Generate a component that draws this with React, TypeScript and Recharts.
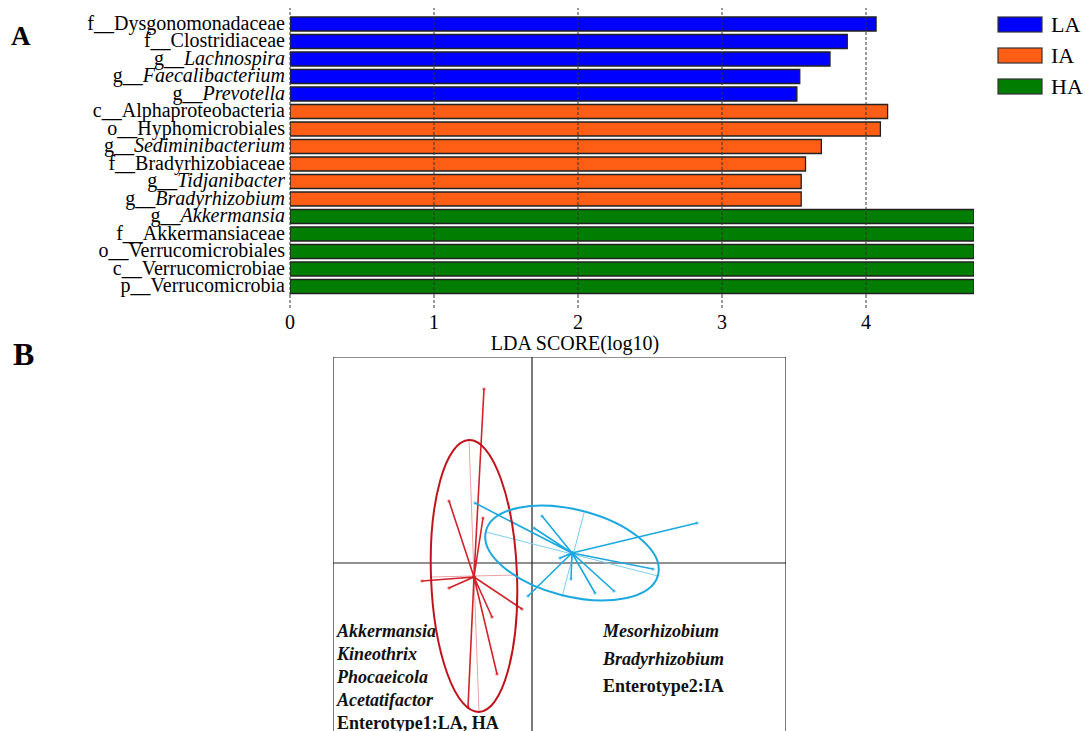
import React from "react";
import {
  BarChart,
  Bar,
  XAxis,
  YAxis,
  Cell,
  ReferenceLine,
  ReferenceArea,
  Legend,
  ScatterChart,
  Scatter,
  Customized,
} from "recharts";

const SERIF = '"Liberation Serif", "Times New Roman", Times, serif';

// ---- panel A: LEfSe LDA scores ----
const taxa = [
  "f__Dysgonomonadaceae",
  "f__Clostridiaceae",
  "g__Lachnospira",
  "g__Faecalibacterium",
  "g__Prevotella",
  "c__Alphaproteobacteria",
  "o__Hyphomicrobiales",
  "g__Sediminibacterium",
  "f__Bradyrhizobiaceae",
  "g__Tidjanibacter",
  "g__Bradyrhizobium",
  "g__Akkermansia",
  "f__Akkermansiaceae",
  "o__Verrucomicrobiales",
  "c__Verrucomicrobiae",
  "p__Verrucomicrobia",
];
const ldaScores = [4.07, 3.87, 3.75, 3.54, 3.52, 4.15, 4.1, 3.69, 3.58, 3.55, 3.55, 4.75, 4.75, 4.75, 4.75, 4.75];
const taxonGroups = ["LA", "LA", "LA", "LA", "LA", "IA", "IA", "IA", "IA", "IA", "IA", "HA", "HA", "HA", "HA", "HA"];
const groupNames = ["LA", "IA", "HA"];
const groupColors = ["#0000FF", "#FF5E14", "#017D01"];
const scoreTicks = [0, 1, 2, 3, 4];

// ---- panel B: enterotype class scatter (BCA) ----
const redCenter = { x: -0.58, y: -0.14 };
const redTips = [
  { x: -0.48, y: 1.74 },
  { x: -0.83, y: 0.62 },
  { x: -0.49, y: 0.45 },
  { x: -1.1, y: -0.18 },
  { x: -0.83, y: -0.25 },
  { x: -0.1, y: -0.46 },
  { x: -0.4, y: -0.54 },
  { x: -0.35, y: -1.11 },
  { x: -0.64, y: -1.44 },
];
const blueCenter = { x: 0.4, y: 0.1 };
const blueTips = [
  { x: -0.57, y: 0.6 },
  { x: 0.1, y: 0.47 },
  { x: 0.02, y: 0.35 },
  { x: 1.65, y: 0.4 },
  { x: 1.21, y: -0.06 },
  { x: -0.04, y: -0.33 },
  { x: 0.39, y: -0.16 },
  { x: 0.63, y: -0.3 },
  { x: 0.82, y: -0.28 },
  { x: 0.28, y: 0.05 },
];
// ellipse: centre, semi-axes, rotation (deg)
const redEllipse = [{ x: -0.58, y: -0.13, rx: 0.43, ry: 1.36, angle: -2.1 }];
const blueEllipse = [{ x: 0.4, y: 0.1, rx: 0.888, ry: 0.434, angle: 14.3 }];
const redAxes = [
  [{ x: -0.63, y: 1.23 }, { x: -0.53, y: -1.49 }],
  [{ x: -1.01, y: -0.14 }, { x: -0.15, y: -0.12 }],
];
const blueAxes = [
  [{ x: -0.46, y: 0.31 }, { x: 1.26, y: -0.13 }],
  [{ x: 0.52, y: 0.5 }, { x: 0.3, y: -0.34 }],
];
const enterotype1Genera = ["Akkermansia", "Kineothrix", "Phocaeicola", "Acetatifactor"];
const enterotype2Genera = ["Mesorhizobium", "Bradyrhizobium"];

const RED = "#D0232A";
const RED_ELL = "#C0141C";
const BLUE = "#1DA8E0";

const PX = 100; // px per unit in panel B (453px / 4.53)
const xDomB: [number, number] = [-1.99, 2.54];
const yDomB: [number, number] = [-1.94, 2.06];

const ldaData = taxa.map((t, i) => ({ taxon: t, score: ldaScores[i], group: taxonGroups[i] }));

const star = (c: { x: number; y: number }, tips: { x: number; y: number }[]) =>
  tips.flatMap((p) => [c, p]);

function TaxonTick(props: any) {
  const { x, y, payload } = props;
  const label: string = payload.value;
  const prefix = label.slice(0, 3);
  const name = label.slice(3);
  return (
    <text x={x} y={y} dy={6} textAnchor="end" fontFamily={SERIF} fontSize={20} fill="#000">
      <tspan>{prefix}</tspan>
      <tspan fontStyle={prefix === "g__" ? "italic" : "normal"}>{name}</tspan>
    </text>
  );
}

function GroupLegend() {
  return (
    <svg width={90} height={90}>
      {groupNames.map((g, i) => (
        <g key={g}>
          <rect x={1} y={1 + i * 31} width={44} height={15} fill={groupColors[i]} stroke="#333" strokeWidth={1.2} />
          <text x={54} y={16 + i * 31} fontFamily={SERIF} fontSize={22} fill="#000">
            {g}
          </text>
        </g>
      ))}
    </svg>
  );
}

const dotShape = (color: string) => (p: any) =>
  <circle cx={p.cx} cy={p.cy} r={1.6} fill={color} opacity={0.7} />;

const noShape = () => <g />;

const ellipseShape = (color: string) => (p: any) => {
  const { cx, cy, payload } = p;
  return (
    <ellipse
      cx={cx}
      cy={cy}
      rx={payload.rx * PX}
      ry={payload.ry * PX}
      transform={`rotate(${payload.angle} ${cx} ${cy})`}
      fill="none"
      stroke={color}
      strokeWidth={2}
    />
  );
};

function PanelBText() {
  return (
    <g fontFamily={SERIF} fontSize={18} fontWeight="bold" fill="#111">
      {enterotype1Genera.map((g, i) => (
        <text key={g} x={4} y={280 + i * 23} fontStyle="italic">
          {g}
        </text>
      ))}
      <text x={4} y={372}>Enterotype1:LA, HA</text>
      {enterotype2Genera.map((g, i) => (
        <text key={g} x={270} y={280 + i * 28} fontStyle="italic">
          {g}
        </text>
      ))}
      <text x={270} y={335}>Enterotype2:IA</text>
    </g>
  );
}

export default function App() {
  return (
    <div
      style={{
        position: "absolute",
        left: 0,
        top: 0,
        width: 1086,
        height: 731,
        overflow: "hidden",
        background: "#fff",
      }}
    >
      <svg width={60} height={400} style={{ position: "absolute", left: 0, top: 0 }}>
        <text x={11} y={45} fontFamily={SERIF} fontSize={27} fontWeight="bold">A</text>
        <text x={13} y={365} fontFamily={SERIF} fontSize={32} fontWeight="bold">B</text>
      </svg>

      <div style={{ position: "absolute", left: 0, top: 0 }}>
        <BarChart
          width={1086}
          height={360}
          data={ldaData}
          layout="vertical"
          margin={{ top: 8, right: 112, left: 5, bottom: 0 }}
          barSize={14}
        >
          <XAxis
            type="number"
            domain={[0, 4.75]}
            ticks={scoreTicks}
            allowDataOverflow
            axisLine={false}
            tickSize={13}
            tickMargin={7}
            tickLine={{ stroke: "#333", strokeDasharray: "3 2" }}
            tick={{ fontFamily: SERIF, fontSize: 20, fill: "#000" }}
            height={65}
            label={() => (
              <text x={575} y={350} textAnchor="middle" fontFamily={SERIF} fontSize={20} fill="#000">
                LDA SCORE(log10)
              </text>
            )}
          />
          <YAxis
            type="category"
            dataKey="taxon"
            width={285}
            axisLine={false}
            tickLine={false}
            tickSize={5}
            tickMargin={0}
            interval={0}
            padding={{ top: 7, bottom: 0 }}
            tick={<TaxonTick />}
          />
          <Bar dataKey="score" stroke="#222" strokeWidth={1.3} isAnimationActive={false}>
            {ldaData.map((d, i) => (
              <Cell key={i} fill={groupColors[groupNames.indexOf(d.group)]} />
            ))}
          </Bar>
          {scoreTicks.map((t) => (
            <ReferenceLine key={t} x={t} stroke="#333" strokeDasharray="3 2" strokeWidth={1} />
          ))}
          <Legend
            layout="horizontal"
            align="center"
            verticalAlign="middle"
            content={() => <GroupLegend />}
            wrapperStyle={{ left: 997, top: 16, width: 90, height: 90 }}
          />
        </BarChart>
      </div>

      <div style={{ position: "absolute", left: 333, top: 357 }}>
        <ScatterChart width={453} height={400} margin={{ top: 0, right: 0, bottom: 0, left: 0 }}>
          <XAxis type="number" dataKey="x" domain={xDomB} allowDataOverflow hide />
          <YAxis type="number" dataKey="y" domain={yDomB} allowDataOverflow hide />
          <ReferenceArea x1={xDomB[0]} x2={xDomB[1]} y1={yDomB[0]} y2={yDomB[1]} fill="none" stroke="#222" strokeWidth={1.2} />
          <ReferenceLine x={0} stroke="#222" strokeWidth={1.2} />
          <ReferenceLine y={0} stroke="#222" strokeWidth={1.2} />
          {redAxes.map((seg, i) => (
            <Scatter key={`ra${i}`} data={seg} line={{ stroke: "#E9A3A6", strokeWidth: 1 }} lineType="joint" shape={noShape} isAnimationActive={false} />
          ))}
          {blueAxes.map((seg, i) => (
            <Scatter key={`ba${i}`} data={seg} line={{ stroke: "#7ECCEE", strokeWidth: 1 }} lineType="joint" shape={noShape} isAnimationActive={false} />
          ))}
          <Scatter data={star(redCenter, redTips)} line={{ stroke: RED, strokeWidth: 1.6 }} lineType="joint" shape={dotShape(RED)} isAnimationActive={false} />
          <Scatter data={star(blueCenter, blueTips)} line={{ stroke: BLUE, strokeWidth: 1.6 }} lineType="joint" shape={dotShape(BLUE)} isAnimationActive={false} />
          <Scatter data={redEllipse} shape={ellipseShape(RED_ELL)} isAnimationActive={false} />
          <Scatter data={blueEllipse} shape={ellipseShape(BLUE)} isAnimationActive={false} />
          <Customized component={<PanelBText />} />
        </ScatterChart>
      </div>
    </div>
  );
}
